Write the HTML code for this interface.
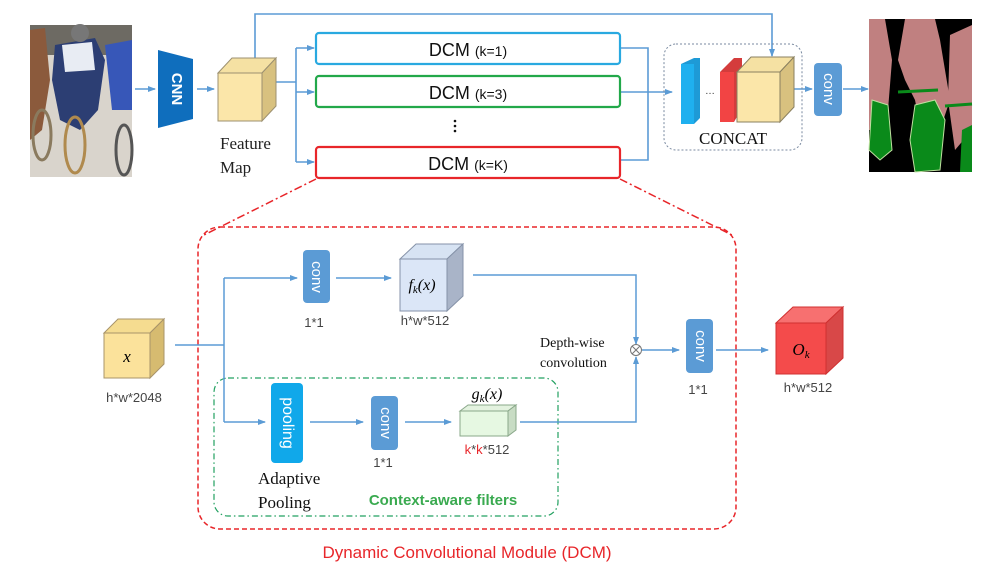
<!DOCTYPE html>
<html><head><meta charset="utf-8"><style>
html,body{margin:0;padding:0;background:#fff;}
svg{display:block;}
.s{font-family:"Liberation Sans",sans-serif;}
.t{font-family:"Liberation Serif",serif;}
</style></head><body>
<svg width="987" height="580" viewBox="0 0 987 580" xmlns="http://www.w3.org/2000/svg">
<defs>
<marker id="a" markerWidth="8" markerHeight="8" refX="7" refY="4" orient="auto" markerUnits="userSpaceOnUse"><path d="M0,1 L8,4 L0,7 Z" fill="#5b9bd5"/></marker>
</defs>
<!-- photo -->
<rect x="30" y="25" width="102" height="152" fill="#d9d4cc"/>
<rect x="30" y="25" width="102" height="30" fill="#6d6a63"/>
<path d="M30,30 L45,28 L50,80 L42,130 L30,140Z" fill="#8b5a3c"/>
<path d="M55,45 L95,38 L105,60 L98,110 L80,130 L60,120 L52,80Z" fill="#2c3e73"/>
<path d="M62,45 L92,42 L95,70 L65,72Z" fill="#e8ecf3"/>
<path d="M105,45 L132,40 L132,110 L112,110Z" fill="#3757b8"/>
<ellipse cx="75" cy="145" rx="10" ry="28" fill="none" stroke="#b08a4e" stroke-width="3"/>
<ellipse cx="42" cy="135" rx="9" ry="25" fill="none" stroke="#8a7a5e" stroke-width="3"/>
<ellipse cx="124" cy="150" rx="8" ry="25" fill="none" stroke="#555" stroke-width="3"/>
<circle cx="80" cy="33" r="9" fill="#777"/>
<g fill="none" stroke="#5b9bd5" stroke-width="1.6">
<line x1="135" y1="89" x2="155" y2="89" marker-end="url(#a)"/>
<line x1="197" y1="89" x2="214" y2="89" marker-end="url(#a)"/>
<polyline points="255,58 255,14 772,14 772,56" marker-end="url(#a)"/>
<line x1="276" y1="82" x2="296" y2="82"/>
<line x1="296" y1="48" x2="296" y2="162"/>
<line x1="296" y1="48" x2="314" y2="48" marker-end="url(#a)"/>
<line x1="296" y1="92" x2="314" y2="92" marker-end="url(#a)"/>
<line x1="296" y1="162" x2="314" y2="162" marker-end="url(#a)"/>
<polyline points="620,48 648,48 648,160 620,160"/>
<line x1="620" y1="92" x2="672" y2="92" marker-end="url(#a)"/>
<line x1="782" y1="89" x2="812" y2="89" marker-end="url(#a)"/>
<line x1="843" y1="89" x2="868" y2="89" marker-end="url(#a)"/>
</g>
<!-- CNN -->
<path d="M158,50 L193,59 L193,119 L158,128Z" fill="#0f6ebd"/>
<text x="176" y="89" class="s" font-size="15" font-weight="bold" fill="#fff" text-anchor="middle" dominant-baseline="middle" transform="rotate(90 176 89)">CNN</text>
<!-- feature cube -->
<path d="M218,73 L232,58 L276,58 L262,73Z" fill="#f5e1a3" stroke="#9c9070" stroke-width="1"/>
<path d="M262,73 L276,58 L276,106 L262,121Z" fill="#d8c17f" stroke="#9c9070" stroke-width="1"/>
<rect x="218" y="73" width="44" height="48" fill="#fbe6a9" stroke="#9c9070" stroke-width="1"/>
<text x="220" y="149" class="t" font-size="17" fill="#222">Feature</text>
<text x="220" y="173" class="t" font-size="17" fill="#222">Map</text>
<!-- DCM boxes -->
<rect x="316" y="33" width="304" height="31" rx="3" fill="#fff" stroke="#29a9e0" stroke-width="2.2"/>
<rect x="316" y="76" width="304" height="31" rx="3" fill="#fff" stroke="#22a84a" stroke-width="2.2"/>
<rect x="316" y="147" width="304" height="31" rx="3" fill="#fff" stroke="#e8262a" stroke-width="2.2"/>
<g class="s" fill="#111" text-anchor="middle">
<text x="468" y="56"><tspan font-size="18">DCM </tspan><tspan font-size="14">(k=1)</tspan></text>
<text x="468" y="99"><tspan font-size="18">DCM </tspan><tspan font-size="14">(k=3)</tspan></text>
<text x="468" y="170"><tspan font-size="18">DCM </tspan><tspan font-size="14">(k=K)</tspan></text>
</g>
<g fill="#111"><circle cx="455" cy="121" r="1.3"/><circle cx="455" cy="126" r="1.3"/><circle cx="455" cy="131" r="1.3"/></g>
<!-- concat -->
<rect x="664" y="44" width="138" height="106" rx="12" fill="none" stroke="#7a8aa0" stroke-width="1" stroke-dasharray="2,2"/>
<path d="M681,64 L694,58 L700,58 L700,118 L694,124 L681,124Z" fill="#1e9ad6"/>
<rect x="681" y="64" width="13" height="60" fill="#1fb0ef"/>
<text x="710" y="94" class="s" font-size="10" fill="#333" text-anchor="middle">…</text>
<path d="M720,72 L734,58 L742,58 L742,108 L734,122Z" fill="#d43c3c"/>
<rect x="720" y="72" width="14" height="50" fill="#f24444"/>
<path d="M737,72 L751,57 L794,57 L780,72Z" fill="#f5e1a3" stroke="#8a8060" stroke-width="1"/>
<path d="M780,72 L794,57 L794,107 L780,122Z" fill="#d8c17f" stroke="#8a8060" stroke-width="1"/>
<rect x="737" y="72" width="43" height="50" fill="#fbe6a9" stroke="#8a8060" stroke-width="1"/>
<text x="733" y="144" class="t" font-size="17" fill="#111" text-anchor="middle">CONCAT</text>
<rect x="814" y="63" width="28" height="53" rx="4" fill="#5b9bd5"/>
<text x="828" y="89" class="s" font-size="15" fill="#fff" text-anchor="middle" dominant-baseline="middle" transform="rotate(90 828 89)">conv</text>
<!-- seg -->
<rect x="869" y="19" width="103" height="153" fill="#000"/>
<path d="M869,19 L885,19 L892,60 L888,110 L880,130 L869,130Z" fill="#c08080"/>
<path d="M905,19 L935,19 L940,40 L945,70 L950,100 L940,130 L925,150 L915,100 L905,80 L898,60Z" fill="#c08080"/>
<path d="M950,35 L972,25 L972,130 L955,150 L948,100Z" fill="#c08080"/>
<path d="M872,100 L888,105 L892,150 L880,160 L869,150Z" fill="#0a8a1a" stroke="#bfe0a0" stroke-width="1"/>
<path d="M915,105 L935,100 L945,120 L940,170 L915,172 L910,140Z" fill="#0a8a1a" stroke="#bfe0a0" stroke-width="1"/>
<path d="M962,130 L972,125 L972,172 L960,172Z" fill="#0a8a1a"/>
<path d="M898,92 L938,90" stroke="#0a8a1a" stroke-width="3"/>
<path d="M945,106 L972,104" stroke="#0a8a1a" stroke-width="3"/>
<!-- zoom lines -->
<g fill="none" stroke="#e8262a" stroke-width="1.5" stroke-dasharray="8,3,2,3">
<line x1="316" y1="179" x2="202" y2="236"/>
<line x1="620" y1="179" x2="734" y2="236"/>
</g>
<rect x="198" y="227" width="538" height="302" rx="22" fill="none" stroke="#e8262a" stroke-width="1.5" stroke-dasharray="5,3"/>
<text x="467" y="558" class="s" font-size="17" fill="#e8262a" text-anchor="middle">Dynamic Convolutional Module (DCM)</text>
<!-- green box -->
<rect x="214" y="378" width="344" height="138" rx="14" fill="none" stroke="#22a060" stroke-width="1.2" stroke-dasharray="6,3,1.5,3"/>
<!-- bottom arrows -->
<g fill="none" stroke="#5b9bd5" stroke-width="1.5">
<line x1="175" y1="345" x2="224" y2="345"/>
<line x1="224" y1="278" x2="224" y2="422"/>
<line x1="224" y1="278" x2="297" y2="278" marker-end="url(#a)"/>
<line x1="224" y1="422" x2="265" y2="422" marker-end="url(#a)"/>
<line x1="336" y1="278" x2="391" y2="278" marker-end="url(#a)"/>
<polyline points="473,275 636,275 636,344" marker-end="url(#a)"/>
<polyline points="520,422 636,422 636,357" marker-end="url(#a)"/>
<line x1="642" y1="350" x2="679" y2="350" marker-end="url(#a)"/>
<line x1="716" y1="350" x2="768" y2="350" marker-end="url(#a)"/>
<line x1="310" y1="422" x2="363" y2="422" marker-end="url(#a)"/>
<line x1="405" y1="422" x2="451" y2="422" marker-end="url(#a)"/>
</g>
<circle cx="636" cy="350" r="5.5" fill="#fff" stroke="#777" stroke-width="1"/>
<line x1="632" y1="346" x2="640" y2="354" stroke="#777" stroke-width="1"/>
<line x1="640" y1="346" x2="632" y2="354" stroke="#777" stroke-width="1"/>
<!-- x cube -->
<path d="M104,333 L118,319 L164,319 L150,333Z" fill="#f5dc90" stroke="#a8946a"/>
<path d="M150,333 L164,319 L164,364 L150,378Z" fill="#d6bb70" stroke="#a8946a"/>
<rect x="104" y="333" width="46" height="45" fill="#fbe29b" stroke="#a8946a"/>
<text x="127" y="362" class="t" font-size="17" font-style="italic" text-anchor="middle">x</text>
<text x="134" y="402" class="s" font-size="13" fill="#444" text-anchor="middle">h*w*2048</text>
<!-- conv top -->
<rect x="303" y="250" width="27" height="53" rx="4" fill="#5b9bd5"/>
<text x="316" y="277" class="s" font-size="15" fill="#fff" text-anchor="middle" dominant-baseline="middle" transform="rotate(90 316 277)">conv</text>
<text x="314" y="327" class="s" font-size="13" fill="#444" text-anchor="middle">1*1</text>
<!-- fk cube -->
<path d="M400,259 L416,244 L463,244 L447,259Z" fill="#d7e3f3" stroke="#8592a8"/>
<path d="M447,259 L463,244 L463,296 L447,311Z" fill="#a9b4c8" stroke="#8592a8"/>
<rect x="400" y="259" width="47" height="52" fill="#dbe6f7" stroke="#8592a8"/>
<text x="422" y="290" class="t" font-size="16" font-style="italic" text-anchor="middle">f<tspan font-size="11" dy="3">k</tspan><tspan dy="-3">(x)</tspan></text>
<text x="425" y="325" class="s" font-size="13" fill="#444" text-anchor="middle">h*w*512</text>
<!-- depth-wise -->
<text x="540" y="347" class="t" font-size="14" fill="#111">Depth-wise</text>
<text x="540" y="367" class="t" font-size="14" fill="#111">convolution</text>
<rect x="686" y="319" width="27" height="54" rx="4" fill="#5b9bd5"/>
<text x="700" y="346" class="s" font-size="15" fill="#fff" text-anchor="middle" dominant-baseline="middle" transform="rotate(90 700 346)">conv</text>
<text x="698" y="394" class="s" font-size="13" fill="#444" text-anchor="middle">1*1</text>
<!-- Ok cube -->
<path d="M776,323 L793,307 L843,307 L826,323Z" fill="#f77070" stroke="#d03030"/>
<path d="M826,323 L843,307 L843,358 L826,374Z" fill="#d84848" stroke="#d03030"/>
<rect x="776" y="323" width="50" height="51" fill="#f44b4b" stroke="#d03030"/>
<text x="801" y="355" class="t" font-size="17" font-style="italic" text-anchor="middle">O<tspan font-size="11" dy="3">k</tspan></text>
<text x="808" y="392" class="s" font-size="13" fill="#444" text-anchor="middle">h*w*512</text>
<!-- pooling -->
<rect x="271" y="383" width="32" height="80" rx="4" fill="#10a8ea"/>
<text x="287" y="423" class="s" font-size="16" fill="#fff" text-anchor="middle" dominant-baseline="middle" transform="rotate(90 287 423)">pooling</text>
<text x="258" y="484" class="t" font-size="17" fill="#111">Adaptive</text>
<text x="258" y="508" class="t" font-size="17" fill="#111">Pooling</text>
<rect x="371" y="396" width="27" height="54" rx="4" fill="#5b9bd5"/>
<text x="385" y="423" class="s" font-size="15" fill="#fff" text-anchor="middle" dominant-baseline="middle" transform="rotate(90 385 423)">conv</text>
<text x="383" y="467" class="s" font-size="13" fill="#444" text-anchor="middle">1*1</text>
<!-- gk cube -->
<path d="M460,411 L468,405 L516,405 L508,411Z" fill="#e3f2df" stroke="#8aa88a"/>
<path d="M508,411 L516,405 L516,430 L508,436Z" fill="#c8dcc4" stroke="#8aa88a"/>
<rect x="460" y="411" width="48" height="25" fill="#e6f8e2" stroke="#8aa88a"/>
<text x="487" y="399" class="t" font-size="16" font-style="italic" text-anchor="middle">g<tspan font-size="11" dy="3">k</tspan><tspan dy="-3">(x)</tspan></text>
<text x="487" y="454" class="s" font-size="13" fill="#444" text-anchor="middle"><tspan fill="#e8262a">k</tspan>*<tspan fill="#e8262a">k</tspan>*512</text>
<text x="443" y="505" class="s" font-size="15" font-weight="bold" fill="#3aaa50" text-anchor="middle">Context-aware filters</text>
</svg>
</body></html>
